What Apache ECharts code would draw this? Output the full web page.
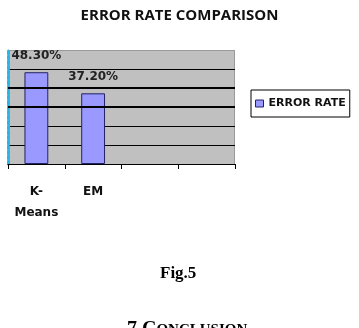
<!DOCTYPE html>
<html><head><meta charset="utf-8">
<script src="https://cdn.jsdelivr.net/npm/echarts@6/dist/echarts.min.js"></script>
<style>html,body{margin:0;padding:0;background:#fff}#c{width:359px;height:328px}</style>
</head><body><div id="c"></div>
<script>
var categories = ['K-\nMeans', 'EM', '', ''];
var errorRate = [48.3, 37.2, null, null];
var valueLabels = ['48.30%', '37.20%'];
var seriesName = 'ERROR RATE';
var titleText = 'ERROR RATE COMPARISON';
var thickLines = [30, 40];

var chart = echarts.init(document.getElementById('c'));
chart.setOption({
  animation: false,
  backgroundColor: '#fff',
  title: {
    text: titleText, left: 'center', top: 3,
    textStyle: { fontFamily: 'Open Sans', fontWeight: 'bold', fontSize: 15, color: '#111' }
  },
  legend: {
    left: 251, top: 90, orient: 'vertical',
    itemWidth: 8, itemHeight: 7, itemGap: 0,
    padding: [8, 4, 8, 4],
    borderColor: '#000', borderWidth: 1,
    textStyle: { fontFamily: 'DejaVu Sans', fontWeight: 'bold', fontSize: 11, color: '#111' },
    itemStyle: { borderColor: '#222266', borderWidth: 1 },
    data: [{ name: seriesName, icon: 'rect' }]
  },
  grid: { left: 8, right: 124, top: 50, bottom: 164, backgroundColor: '#c0c0c0', show: true, borderWidth: 0 },
  xAxis: {
    type: 'category', data: categories,
    axisLine: { lineStyle: { color: '#000', width: 1 } },
    axisTick: { show: true, interval: 0, length: 5, lineStyle: { color: '#000' } },
    axisLabel: { interval: 0, hideOverlap: false, fontFamily: 'DejaVu Sans', fontWeight: 'bold', fontSize: 12, color: '#111', margin: 17, lineHeight: 21 }
  },
  yAxis: {
    type: 'value', min: 0, max: 60, interval: 10,
    axisLine: { show: true, lineStyle: { color: '#29b6e6', width: 3, type: [3, 2] } },
    axisTick: { show: false },
    axisLabel: { show: false },
    splitLine: { show: true, lineStyle: { color: ['#000', '#000', '#000', '#000', '#000', '#000', '#9a9a9a'], width: 1 } }
  },
  graphic: [
    { type: 'rect', shape: { x: 234, y: 50, width: 1, height: 114 }, style: { fill: '#9a9a9a' } },
    { type: 'text', left: 160, top: 265, style: { text: 'Fig.5', font: 'bold 17px "Liberation Serif"', fill: '#000' } },
    { type: 'text', left: 127, top: 320, style: { text: '7 C{s|ONCLUSION}', font: 'bold 20px "Liberation Serif"', fill: '#000',
      rich: { s: { font: 'bold 15px "Liberation Serif"', fill: '#000' } } } }
  ],
  series: [{
    name: seriesName, type: 'bar', data: errorRate, barWidth: '42%',
    itemStyle: { color: '#9999ff', borderColor: '#222266', borderWidth: 1 },
    label: {
      show: true, position: 'top', distance: 10,
      formatter: function (p) { return valueLabels[p.dataIndex]; },
      fontFamily: 'DejaVu Sans', fontWeight: 'bold', fontSize: 12, color: '#222'
    },
    markLine: {
      silent: true, symbol: 'none', label: { show: false },
      lineStyle: { color: '#000', width: 2, type: 'solid' },
      data: thickLines.map(function (v) { return { yAxis: v }; })
    }
  }]
});
</script></body></html>
